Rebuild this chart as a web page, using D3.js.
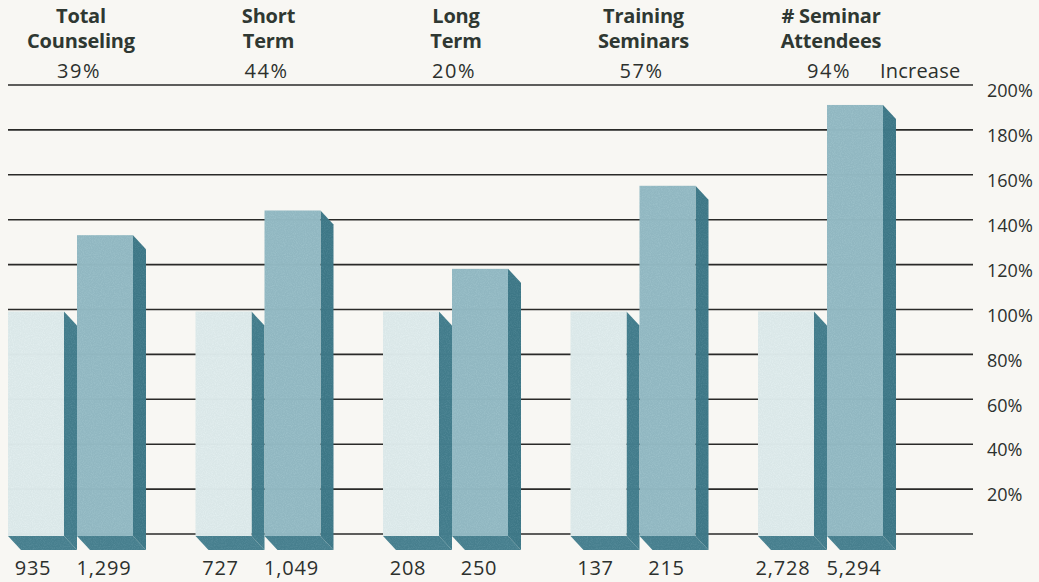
<!DOCTYPE html>
<html>
<head>
<meta charset="utf-8">
<script src="https://cdn.jsdelivr.net/npm/d3@7"></script>
<style>
  html, body { margin: 0; padding: 0; background: #f8f7f3; }
  svg { display: block; }
</style>
</head>
<body>
<svg id="chart" width="1039" height="582"></svg>
<script>
// ---- data ----
const categories = ["Total Counseling", "Short Term", "Long Term", "Training Seminars", "# Seminar Attendees"];
const titleLine1 = ["Total", "Short", "Long", "Training", "# Seminar"];
const titleLine2 = ["Counseling", "Term", "Term", "Seminars", "Attendees"];
const increaseLabels = ["39%", "44%", "20%", "57%", "94%"];
const beforeCounts = ["935", "727", "208", "137", "2,728"];
const afterCounts = ["1,299", "1,049", "250", "215", "5,294"];
const beforePct = [100, 100, 100, 100, 100];
const afterPct = [134, 145, 119, 156, 192];
const gridTicks = [0, 20, 40, 60, 80, 100, 120, 140, 160, 180, 200];
const axisTickLabels = [20, 40, 60, 80, 100, 120, 140, 160, 180, 200];

// ---- layout ----
const W = 1039, H = 582;
const svg = d3.select("#chart");
const textColor = "#2c302d";

const x0 = d3.scaleBand().domain(categories).range([8, 896]).paddingInner(0.264).paddingOuter(0);
const x1 = d3.scaleBand().domain(["before", "after"]).range([0, x0.bandwidth()]).paddingInner(0);
const y = d3.scaleLinear().domain([0, 200]).range([534, 85]);

const depthX = 13, depthY = 14, frontShift = 2;
const frontW = x1.bandwidth() - depthX;

// texture filter
const defs = svg.append("defs");
const f = defs.append("filter").attr("id", "grain").attr("x", 0).attr("y", 0).attr("width", 1).attr("height", 1);
f.append("feTurbulence").attr("type", "fractalNoise").attr("baseFrequency", 0.9).attr("numOctaves", 2).attr("seed", 3).attr("result", "noise");
f.append("feColorMatrix").attr("in", "noise").attr("type", "matrix")
  .attr("values", "0 0 0 0 0  0 0 0 0 0  0 0 0 0 0  0 0 0 -0.9 0.55").attr("result", "dots");
f.append("feComposite").attr("in", "dots").attr("in2", "SourceGraphic").attr("operator", "in").attr("result", "dotsIn");
f.append("feComposite").attr("in", "SourceGraphic").attr("in2", "dotsIn").attr("operator", "arithmetic")
  .attr("k1", 0).attr("k2", 1).attr("k3", -0.15).attr("k4", 0);

// background paper
svg.append("rect").attr("width", W).attr("height", H).attr("fill", "#f8f7f3");

// gridlines
svg.append("g").selectAll("line").data(gridTicks).join("line")
  .attr("x1", 8).attr("x2", 973)
  .attr("y1", d => y(d)).attr("y2", d => y(d))
  .attr("stroke", "#2a2a28").attr("stroke-width", 1.6);

// right axis labels
const axis = d3.axisRight(y).tickValues(axisTickLabels).tickSize(0).tickPadding(0)
  .tickFormat(d => d + "%");
const ag = svg.append("g").attr("transform", "translate(987,6)").call(axis);
ag.select(".domain").remove();
ag.selectAll("text").attr("fill", textColor)
  .style("font-family", "'Open Sans', sans-serif").style("font-size", "18px");

// bars
const colors = {
  before: { front: "#dae7e8", side: "#427c8b", bottom: "#467f8e" },
  after:  { front: "#91b7c1", side: "#3e7786", bottom: "#467f8e" }
};
const groups = svg.append("g").selectAll("g").data(categories).join("g")
  .attr("transform", d => `translate(${x0(d)},${frontShift})`);

groups.each(function(cat, i) {
  const g = d3.select(this);
  const items = [
    { key: "before", v: beforePct[i] },
    { key: "after", v: afterPct[i] }
  ];
  items.forEach(it => {
    const bx = x1(it.key);
    const top = y(it.v);
    const bot = y(0);
    const c = colors[it.key];
    // bottom strip
    g.append("path")
      .attr("d", `M${bx},${bot} L${bx + frontW},${bot} L${bx + frontW + depthX},${bot + depthY} L${bx + depthX},${bot + depthY} Z`)
      .attr("fill", c.bottom).attr("filter", "url(#grain)");
    // side
    g.append("path")
      .attr("d", `M${bx + frontW},${top} L${bx + frontW + depthX},${top + depthY} L${bx + frontW + depthX},${bot + depthY} L${bx + frontW},${bot} Z`)
      .attr("fill", c.side).attr("filter", "url(#grain)");
    // front
    g.append("rect")
      .attr("x", bx).attr("y", top).attr("width", frontW).attr("height", bot - top)
      .attr("fill", c.front).attr("filter", "url(#grain)");
  });
  // bottom counts
  g.append("text").text(beforeCounts[i])
    .attr("x", x1("before") + frontW / 2 - 3).attr("y", 575 - frontShift)
    .attr("text-anchor", "middle");
  g.append("text").text(afterCounts[i])
    .attr("x", x1("after") + frontW / 2 - 1).attr("y", 575 - frontShift)
    .attr("text-anchor", "middle");
});
groups.selectAll("text").attr("fill", textColor)
  .style("font-family", "'Open Sans', sans-serif").style("font-size", "20px")
  .style("letter-spacing", "0.8px");

// titles
const header = svg.append("g");
categories.forEach((cat, i) => {
  const cx = x0(cat) + x0.bandwidth() / 2 + 4;
  header.append("text").text(titleLine1[i]).attr("x", cx).attr("y", 23);
  header.append("text").text(titleLine2[i]).attr("x", cx).attr("y", 48);
});
header.selectAll("text").attr("text-anchor", "middle").attr("fill", "#2f3832")
  .style("font-family", "'Open Sans', sans-serif").style("font-weight", 700).style("font-size", "20px")
  .style("letter-spacing", "-0.2px");

const pctG = svg.append("g");
categories.forEach((cat, i) => {
  const cx = x0(cat) + x0.bandwidth() / 2 + 2;
  pctG.append("text").text(increaseLabels[i]).attr("x", cx).attr("y", 78).attr("text-anchor", "middle")
    .style("letter-spacing", "1.5px");
});
pctG.append("text").text("Increase").attr("x", 880).attr("y", 78).attr("text-anchor", "start")
  .style("letter-spacing", "0.2px");
pctG.selectAll("text").attr("fill", textColor)
  .style("font-family", "'Open Sans', sans-serif").style("font-size", "20px");
</script>
</body>
</html>
